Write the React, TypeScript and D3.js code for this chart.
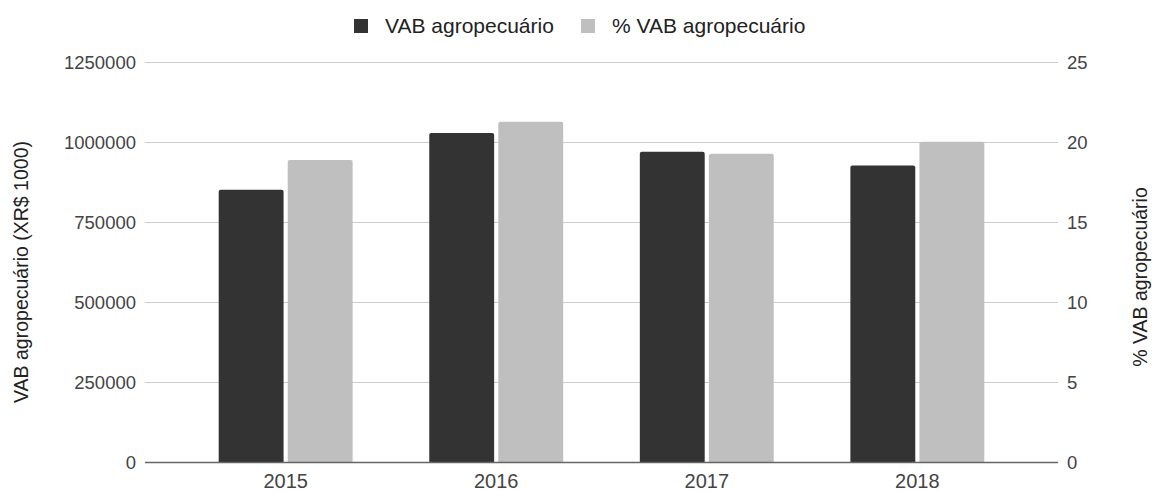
import React from "react";
import * as d3 from "d3";

const years = ["2015", "2016", "2017", "2018"];
const vabValues = [852000, 1030000, 971000, 928000];
const pctValues = [18.9, 21.3, 19.3, 20.05];
const leftTicks = [0, 250000, 500000, 750000, 1000000, 1250000];
const rightTicks = [0, 5, 10, 15, 20, 25];
const seriesNames = ["VAB agropecuário", "% VAB agropecuário"];
const seriesColors = ["#333333", "#bfbfbf"];

const W = 1152;
const H = 491;
const left = 145;
const right = 1058;
const top = 62.5;
const bottom = 462.5;
const FONT = "'Liberation Sans', Arial, sans-serif";

function barPath(x: number, y: number, w: number, h: number, r: number) {
  const rr = Math.min(r, h);
  return `M${x},${y + h}V${y + rr}Q${x},${y} ${x + rr},${y}H${x + w - rr}Q${x + w},${y} ${x + w},${y + rr}V${y + h}Z`;
}

export default function App() {
  const x = d3.scaleBand<string>().domain(years).range([left, right]).paddingInner(0.364).paddingOuter(0.35);
  const inner = d3.scaleBand<string>().domain(seriesNames).range([0, x.bandwidth()]).paddingInner(0.06);
  const yL = d3.scaleLinear().domain([0, 1250000]).range([bottom, top]);
  const yR = d3.scaleLinear().domain([0, 25]).range([bottom, top]);

  return (
    <svg width={W} height={H} style={{ position: "absolute", left: 0, top: 0, background: "#fff" }} fontFamily={FONT}>
      {leftTicks.map((t) =>
        t === 0 ? null : (
          <line key={t} x1={left} x2={right} y1={yL(t)} y2={yL(t)} stroke="#cccccc" strokeWidth={1} />
        )
      )}
      {years.map((yr, i) => {
        const x0 = x(yr)!;
        const bw = inner.bandwidth();
        const hx = x0 + inner(seriesNames[0])!;
        const px = x0 + inner(seriesNames[1])!;
        const yv = yL(vabValues[i]);
        const yp = yR(pctValues[i]);
        return (
          <g key={yr}>
            <path d={barPath(hx, yv, bw, bottom - yv, 2)} fill={seriesColors[0]} />
            <path d={barPath(px, yp, bw, bottom - yp, 2)} fill={seriesColors[1]} />
          </g>
        );
      })}
      <line x1={left} x2={right} y1={bottom} y2={bottom} stroke="#666666" strokeWidth={1.5} />
      {leftTicks.map((t) => (
        <text key={t} x={136} y={yL(t)} dy="0.35em" textAnchor="end" fontSize={18.5} fill="#444">
          {t}
        </text>
      ))}
      {rightTicks.map((t) => (
        <text key={t} x={1067} y={yR(t)} dy="0.35em" textAnchor="start" fontSize={18.5} fill="#444">
          {t}
        </text>
      ))}
      {years.map((yr) => (
        <text key={yr} x={x(yr)! + x.bandwidth() / 2} y={488} textAnchor="middle" fontSize={20} fill="#444">
          {yr}
        </text>
      ))}
      <text transform={`translate(28,${272}) rotate(-90)`} textAnchor="middle" fontSize={19.5} fill="#222">
        VAB agropecuário (XR$ 1000)
      </text>
      <text transform={`translate(1147,${277}) rotate(-90)`} textAnchor="middle" fontSize={19.5} fill="#222">
        % VAB agropecuário
      </text>
      <rect x={354} y={19} width={14} height={14} fill={seriesColors[0]} />
      <text x={385} y={33} fontSize={21} fill="#222">{seriesNames[0]}</text>
      <rect x={581} y={19} width={14} height={14} fill={seriesColors[1]} />
      <text x={612} y={33} fontSize={21} fill="#222">{seriesNames[1]}</text>
    </svg>
  );
}
